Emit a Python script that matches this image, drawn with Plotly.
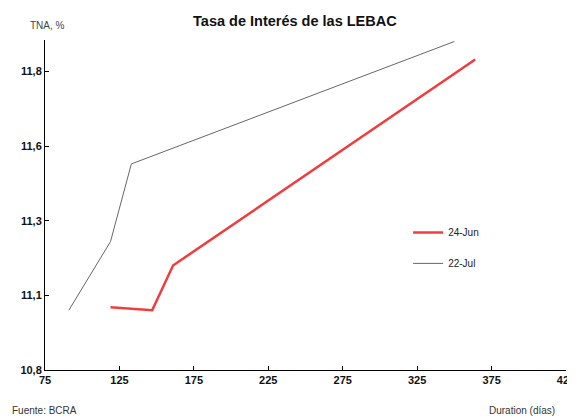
import plotly.graph_objects as go

# Curva de tasas LEBAC
jun_duration = [119, 147, 161, 364]
jun_rate = [11.01, 11.00, 11.15, 11.84]

jul_duration = [91, 119, 133, 350]
jul_rate = [11.00, 11.23, 11.49, 11.90]

x_ticks = [75, 125, 175, 225, 275, 325, 375, 425]
y_ticks = [10.8, 11.05, 11.3, 11.55, 11.8]
y_labels = ["10,8", "11,1", "11,3", "11,6", "11,8"]

FONT = "Liberation Sans, Arial, sans-serif"

fig = go.Figure()
fig.add_trace(go.Scatter(
    x=jun_duration, y=jun_rate, mode="lines", name="24-Jun",
    line=dict(color="#f23c3c", width=2.5), legendgroup="a",
))
fig.add_trace(go.Scatter(
    x=jul_duration, y=jul_rate, mode="lines", name="22-Jul",
    line=dict(color="#666666", width=1), legendgroup="b",
))

# la página tiene 8 px de margen en el body: la figura se reduce en esa medida
fig.update_layout(
    width=567, height=409,
    margin=dict(l=37, r=9, t=32, b=47, autoexpand=False),
    paper_bgcolor="white", plot_bgcolor="white",
    font=dict(family=FONT, color="#222"),
    title=dict(text="<b>Tasa de Interés de las LEBAC</b>", x=0.506, xanchor="center",
               y=0.968, yanchor="middle", font=dict(size=14.5, color="#111")),
    showlegend=True,
    legend=dict(x=0.697, y=0.37, xanchor="left", yanchor="middle",
                bgcolor="rgba(0,0,0,0)", font=dict(size=10, color="#222"),
                tracegroupgap=12, itemwidth=30),
    xaxis=dict(range=[75, 425], tickvals=x_ticks, ticks="inside", ticklen=4,
               tickcolor="black", showline=True, linecolor="black", linewidth=1,
               showgrid=False, zeroline=False, automargin=False,
               ticklabeloverflow="allow",
               tickfont=dict(size=11, color="#111", family=FONT, weight="bold")),
    yaxis=dict(range=[10.8, 11.905], tickvals=y_ticks, ticktext=y_labels,
               ticks="inside", ticklen=4, tickcolor="black", showline=True,
               linecolor="black", linewidth=1, showgrid=False, zeroline=False,
               automargin=False,
               tickfont=dict(size=11, color="#111", family=FONT, weight="bold")),
)

fig.add_annotation(text="TNA, %", xref="paper", yref="paper", x=-0.033, y=1.043,
                   xanchor="left", yanchor="middle", showarrow=False,
                   font=dict(size=10, color="#444"))
fig.add_annotation(text="Fuente: BCRA", xref="paper", yref="paper", x=-0.067, y=-0.124,
                   xanchor="left", yanchor="middle", showarrow=False,
                   font=dict(size=10, color="#333"))
fig.add_annotation(text="Duration (días)", xref="paper", yref="paper", x=0.983, y=-0.124,
                   xanchor="right", yanchor="middle", showarrow=False,
                   font=dict(size=10, color="#333"))

fig.write_html("out.html")
